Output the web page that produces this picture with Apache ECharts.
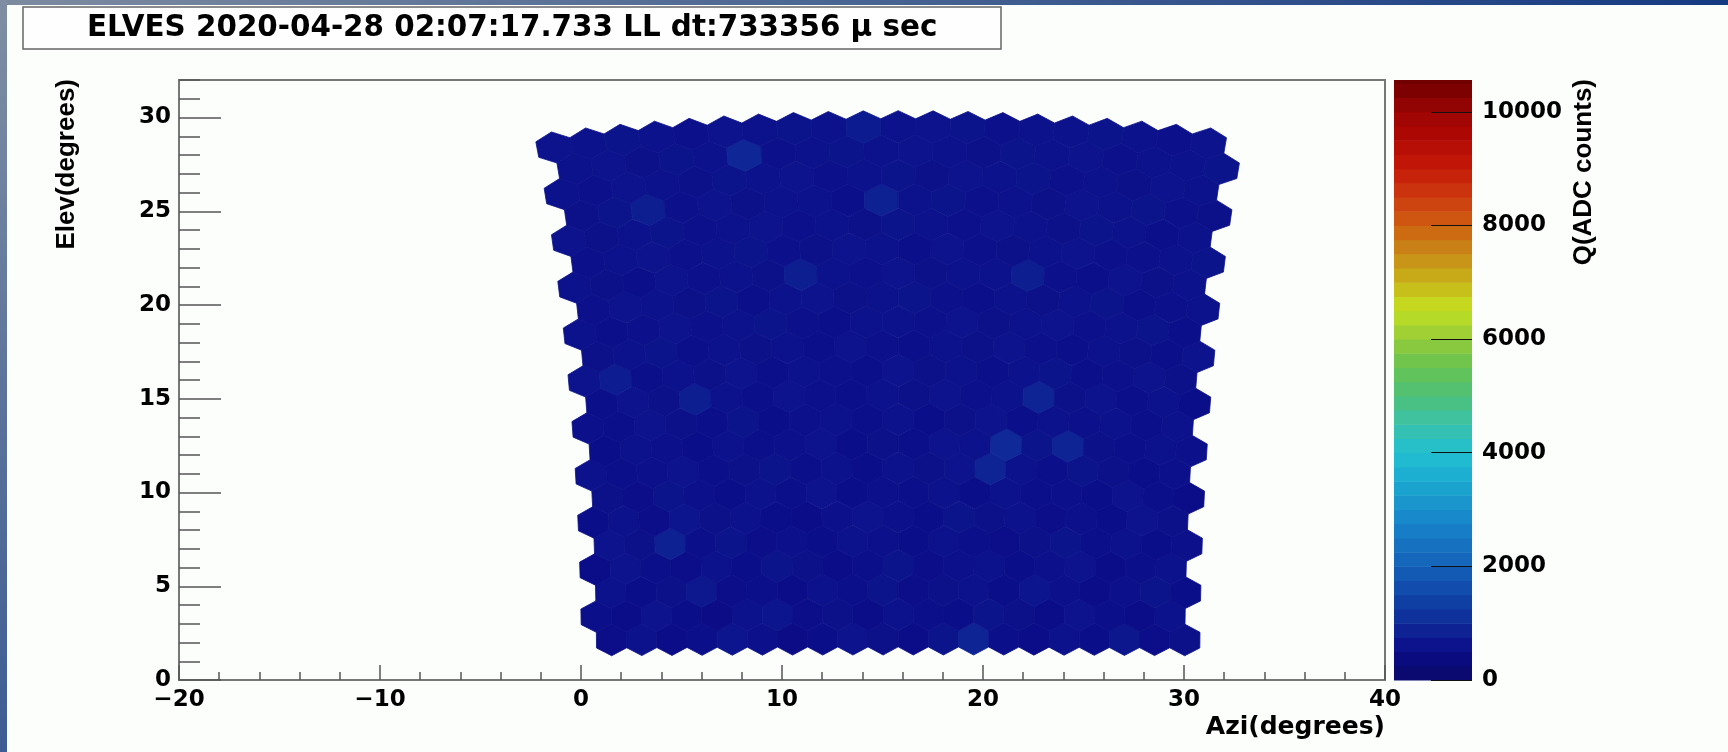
<!DOCTYPE html>
<html>
<head>
<meta charset="utf-8">
<script src="https://cdn.jsdelivr.net/npm/echarts@6.0.0/dist/echarts.min.js"></script>
<style>
html,body{margin:0;padding:0;background:#fcfefc;}
#c{width:1728px;height:752px;}
</style>
</head>
<body>
<div id="c"></div>
<script>
// ---------------- data ----------------
const titleText = 'ELVES 2020-04-28 02:07:17.733 LL dt:733356 \u03bc sec';
const xTitle = 'Azi(degrees)';
const yTitle = 'Elev(degrees)';
const zTitle = 'Q(ADC counts)';

// camera grid (22 rows x 20 columns of hexagonal pixels)
const camAzi = 15.78;          // azimuth of camera centre (deg)
const pixelPitch = 1.5;        // pixel spacing (deg)
const hexR = 0.866;            // hexagon vertical radius (deg)
// elevation of each pixel row at the camera centre, bottom row first
const rowElev = [2.2, 3.5, 4.8, 6.1, 7.4, 8.7, 10.0, 11.3, 12.6, 13.9, 15.2,
                 16.5, 17.8, 19.1, 20.4, 21.7, 23.0, 24.3, 25.6, 26.9, 28.2, 29.5];

// charge per pixel (ADC counts), one array per row, left to right
const q00 = [520, 610, 480, 560, 650, 590, 470, 540, 620, 580, 500, 630, 900, 560, 490, 600, 540, 670, 520, 580];
const q01 = [560, 500, 620, 540, 470, 600, 650, 520, 580, 490, 610, 560, 530, 640, 580, 500, 620, 550, 480, 600];
const q02 = [600, 540, 580, 700, 520, 560, 490, 610, 550, 630, 520, 580, 600, 540, 660, 590, 510, 570, 630, 540];
const q03 = [480, 620, 560, 520, 600, 540, 630, 580, 500, 560, 640, 520, 590, 610, 530, 570, 620, 500, 560, 610];
const q04 = [620, 580, 850, 560, 640, 520, 590, 540, 610, 570, 530, 600, 560, 520, 580, 640, 550, 600, 530, 570];
const q05 = [540, 600, 520, 650, 580, 610, 540, 500, 570, 620, 590, 540, 630, 580, 610, 520, 590, 540, 620, 580];
const q06 = [580, 520, 640, 570, 530, 600, 560, 620, 540, 590, 560, 610, 540, 600, 560, 590, 530, 620, 560, 500];
const q07 = [600, 560, 590, 620, 550, 580, 640, 560, 600, 530, 610, 580, 620, 880, 600, 560, 640, 580, 530, 590];
const q08 = [530, 610, 570, 540, 600, 560, 590, 620, 540, 580, 560, 620, 600, 1000, 640, 900, 580, 550, 610, 570];
const q09 = [590, 550, 620, 580, 560, 640, 530, 590, 610, 560, 600, 540, 580, 620, 560, 600, 570, 610, 560, 600];
const q10 = [560, 620, 580, 800, 600, 550, 620, 570, 560, 610, 580, 620, 570, 600, 900, 580, 620, 560, 600, 540];
const q11 = [620, 780, 560, 600, 580, 620, 560, 610, 590, 550, 620, 580, 610, 560, 600, 630, 560, 590, 620, 580];
const q12 = [580, 600, 640, 560, 610, 580, 600, 550, 620, 590, 560, 610, 580, 620, 590, 560, 610, 580, 550, 620];
const q13 = [600, 560, 590, 620, 570, 600, 640, 590, 560, 610, 600, 570, 620, 580, 600, 620, 570, 600, 630, 560];
const q14 = [570, 620, 600, 580, 630, 560, 600, 620, 580, 600, 630, 590, 560, 610, 580, 600, 640, 560, 590, 610];
const q15 = [610, 580, 560, 620, 590, 610, 580, 800, 600, 570, 620, 580, 610, 600, 800, 590, 560, 620, 580, 600];
const q16 = [590, 610, 620, 570, 600, 640, 590, 580, 620, 600, 560, 620, 590, 580, 610, 620, 590, 570, 610, 640];
const q17 = [620, 580, 600, 630, 570, 600, 620, 590, 610, 580, 640, 600, 570, 620, 600, 580, 630, 600, 560, 610];
const q18 = [580, 640, 800, 590, 620, 580, 610, 600, 560, 850, 600, 630, 590, 610, 580, 620, 600, 640, 590, 580];
const q19 = [610, 590, 620, 600, 580, 640, 600, 620, 590, 610, 630, 580, 620, 600, 640, 590, 610, 580, 620, 600];
const q20 = [600, 620, 580, 640, 610, 950, 590, 610, 640, 600, 620, 600, 580, 630, 600, 620, 590, 610, 600, 640];
const q21 = [620, 600, 640, 610, 590, 620, 600, 640, 610, 760, 600, 620, 640, 590, 610, 600, 630, 610, 590, 620];

// colour scale
const zMin = 0;
const zMax = 10560;
const paletteColors = ['#0a0a6a', '#0b0c88', '#0f2a98', '#1146a8', '#1462b8', '#1778c4', '#1990cc',
  '#1caad2', '#22c0d0', '#3cc2a8', '#4ec076', '#68c450', '#98cc38', '#c4e020', '#c8b018',
  '#c88818', '#d05c10', '#cc3810', '#c41808', '#b00804', '#980404', '#6e0000'];
const paletteEdges = [0, 250, 500, 750, 1000, 1250, 1500, 1750, 2000, 2250, 2500, 2750, 3000, 3250,
  3500, 3750, 4000, 4250, 4500, 4750, 5000, 5250, 5500, 5750, 6000, 6250, 6500, 6750, 7000, 7250,
  7500, 7750, 8000, 8250, 8500, 8750, 9000, 9250, 9500, 9750, 10000, 10250, 10500, 10560];

// ---------------- build series data ----------------
const charge = [q00, q01, q02, q03, q04, q05, q06, q07, q08, q09, q10, q11,
                q12, q13, q14, q15, q16, q17, q18, q19, q20, q21];
const DEG = Math.PI / 180;
function sky(u, E) {
  const cu = Math.cos(u * DEG);
  return [camAzi + Math.atan2(Math.sin(u * DEG), cu * Math.cos(E * DEG)) / DEG,
          Math.asin(cu * Math.sin(E * DEG)) / DEG];
}
const cells = [];
rowElev.forEach(function (E, j) {
  charge[j].forEach(function (q, i) {
    const u = (i - 9.5 - (j % 2) * 0.5) * pixelPitch;
    const p = sky(u, E);
    cells.push([p[0], p[1], q, u, E]);
  });
});
const bands = paletteEdges.slice(0, -1).map(function (lo, k) {
  const hi = paletteEdges[k + 1];
  return [0.5, lo, (lo + hi) / 2, hi];
});

const HEX = [[0, 1], [0.5, 0.5], [0.5, -0.5], [0, -1], [-0.5, -0.5], [-0.5, 0.5]];
function renderHex(params, api) {
  const u = api.value(3), E = api.value(4);
  const pts = HEX.map(function (h) {
    return api.coord(sky(u + h[0] * pixelPitch, E + h[1] * hexR));
  });
  const c = api.visual('color');
  return { type: 'polygon', shape: { points: pts }, style: { fill: c, stroke: c, lineWidth: 0.8 } };
}
function renderBand(params, api) {
  const a = api.coord([0, api.value(1)]);
  const b = api.coord([1, api.value(3)]);
  return { type: 'rect', shape: { x: a[0], y: b[1], width: b[0] - a[0], height: a[1] - b[1] + 0.5 },
           style: { fill: api.visual('color') } };
}

// ---------------- chart ----------------
const LBL = { fontFamily: 'DejaVu Sans', fontWeight: 'bold', fontSize: 23, color: '#000' };
const AXC = '#777';
const TKC = '#555';
const chart = echarts.init(document.getElementById('c'), null, { renderer: 'canvas' });
chart.setOption({
  backgroundColor: '#fcfefc',
  animation: false,
  title: {
    text: titleText, left: 23, top: 7, padding: [4, 64],
    borderColor: '#666', borderWidth: 1.5, backgroundColor: '#fdfefd',
    textStyle: { fontFamily: 'DejaVu Sans', fontWeight: 'bold', fontSize: 29.4, color: '#000', lineHeight: 34 }
  },
  grid: [
    { left: 179, top: 80, width: 1206, height: 600, show: true, borderColor: AXC, borderWidth: 2, backgroundColor: 'transparent', containLabel: false },
    { left: 1394, top: 80, width: 78, height: 600, show: false, containLabel: false }
  ],
  xAxis: [
    { gridIndex: 0, type: 'value', min: -20, max: 40, interval: 10, position: 'bottom',
      axisLine: { onZero: false, lineStyle: { color: AXC, width: 2 } },
      axisTick: { inside: true, length: 15, lineStyle: { color: TKC, width: 1.5 } },
      minorTick: { show: true, splitNumber: 5, length: 8, lineStyle: { color: TKC, width: 1.5 } },
      splitLine: { show: false }, minorSplitLine: { show: false },
      axisLabel: Object.assign({}, LBL, { margin: 9, formatter: function (v) { return String(v).replace('-', '\u2212'); } }) },
    { gridIndex: 1, type: 'value', min: 0, max: 1, show: false, axisLine: { onZero: false } }
  ],
  yAxis: [
    { gridIndex: 0, type: 'value', min: 0, max: 32, interval: 5, position: 'left',
      axisLine: { onZero: false, lineStyle: { color: AXC, width: 2 } },
      axisTick: { inside: true, length: 42, lineStyle: { color: TKC, width: 1.5 } },
      splitLine: { show: false },
      axisLabel: Object.assign({}, LBL, { margin: 8, showMaxLabel: false, formatter: function (v) { return v % 5 === 0 ? String(v) : ''; } }) },
    { gridIndex: 0, type: 'value', min: 0, max: 32, interval: 1, position: 'left',
      axisLine: { show: false, onZero: false },
      axisTick: { inside: true, length: 21, lineStyle: { color: TKC, width: 1.5 } },
      splitLine: { show: false }, axisLabel: { show: false } },
    { gridIndex: 1, type: 'value', min: zMin, max: zMax, interval: 2000, position: 'right', z: 10,
      axisLine: { show: false, onZero: false },
      axisTick: { inside: true, length: 41, lineStyle: { color: '#111', width: 1 } },
      splitLine: { show: false },
      axisLabel: Object.assign({}, LBL, { margin: 10, showMaxLabel: false, formatter: function (v) { return v % 2000 === 0 ? String(v) : ''; } }) }
  ],
  visualMap: {
    type: 'continuous', show: false, min: zMin, max: zMax, dimension: 2, seriesIndex: [0, 1],
    inRange: { color: paletteColors }
  },
  series: [
    { type: 'custom', xAxisIndex: 0, yAxisIndex: 0, renderItem: renderHex, data: cells,
      encode: { x: 0, y: 1 }, clip: false, z: 2 },
    { type: 'custom', xAxisIndex: 1, yAxisIndex: 2, renderItem: renderBand, data: bands,
      encode: { x: 0, y: 1 }, clip: false, z: 1 }
  ],
  graphic: [
    { type: 'rect', silent: true, z: 100, shape: { x: 0, y: 0, width: 1728, height: 5 },
      style: { fill: { type: 'linear', x: 0, y: 0, x2: 1, y2: 0,
        colorStops: [{ offset: 0, color: '#7d8ba0' }, { offset: 0.45, color: '#4e6894' }, { offset: 1, color: '#163a82' }] } } },
    { type: 'rect', silent: true, z: 100, shape: { x: 0, y: 0, width: 7, height: 752 },
      style: { fill: { type: 'linear', x: 0, y: 0, x2: 0, y2: 1,
        colorStops: [{ offset: 0, color: '#7f8ea3' }, { offset: 1, color: '#3d5c93' }] } } },
    { type: 'text', x: 1385, y: 727, silent: true,
      style: { text: xTitle, font: 'bold 25px "DejaVu Sans"', fill: '#000', align: 'right', verticalAlign: 'middle' } },
    { type: 'text', x: 67, y: 79, rotation: Math.PI / 2, silent: true,
      style: { text: yTitle, font: 'bold 26px "Liberation Sans"', fill: '#000', align: 'right', verticalAlign: 'middle' } },
    { type: 'text', x: 1584, y: 79, rotation: Math.PI / 2, silent: true,
      style: { text: zTitle, font: 'bold 26px "Liberation Sans"', fill: '#000', align: 'right', verticalAlign: 'middle' } }
  ]
});
</script>
</body>
</html>
